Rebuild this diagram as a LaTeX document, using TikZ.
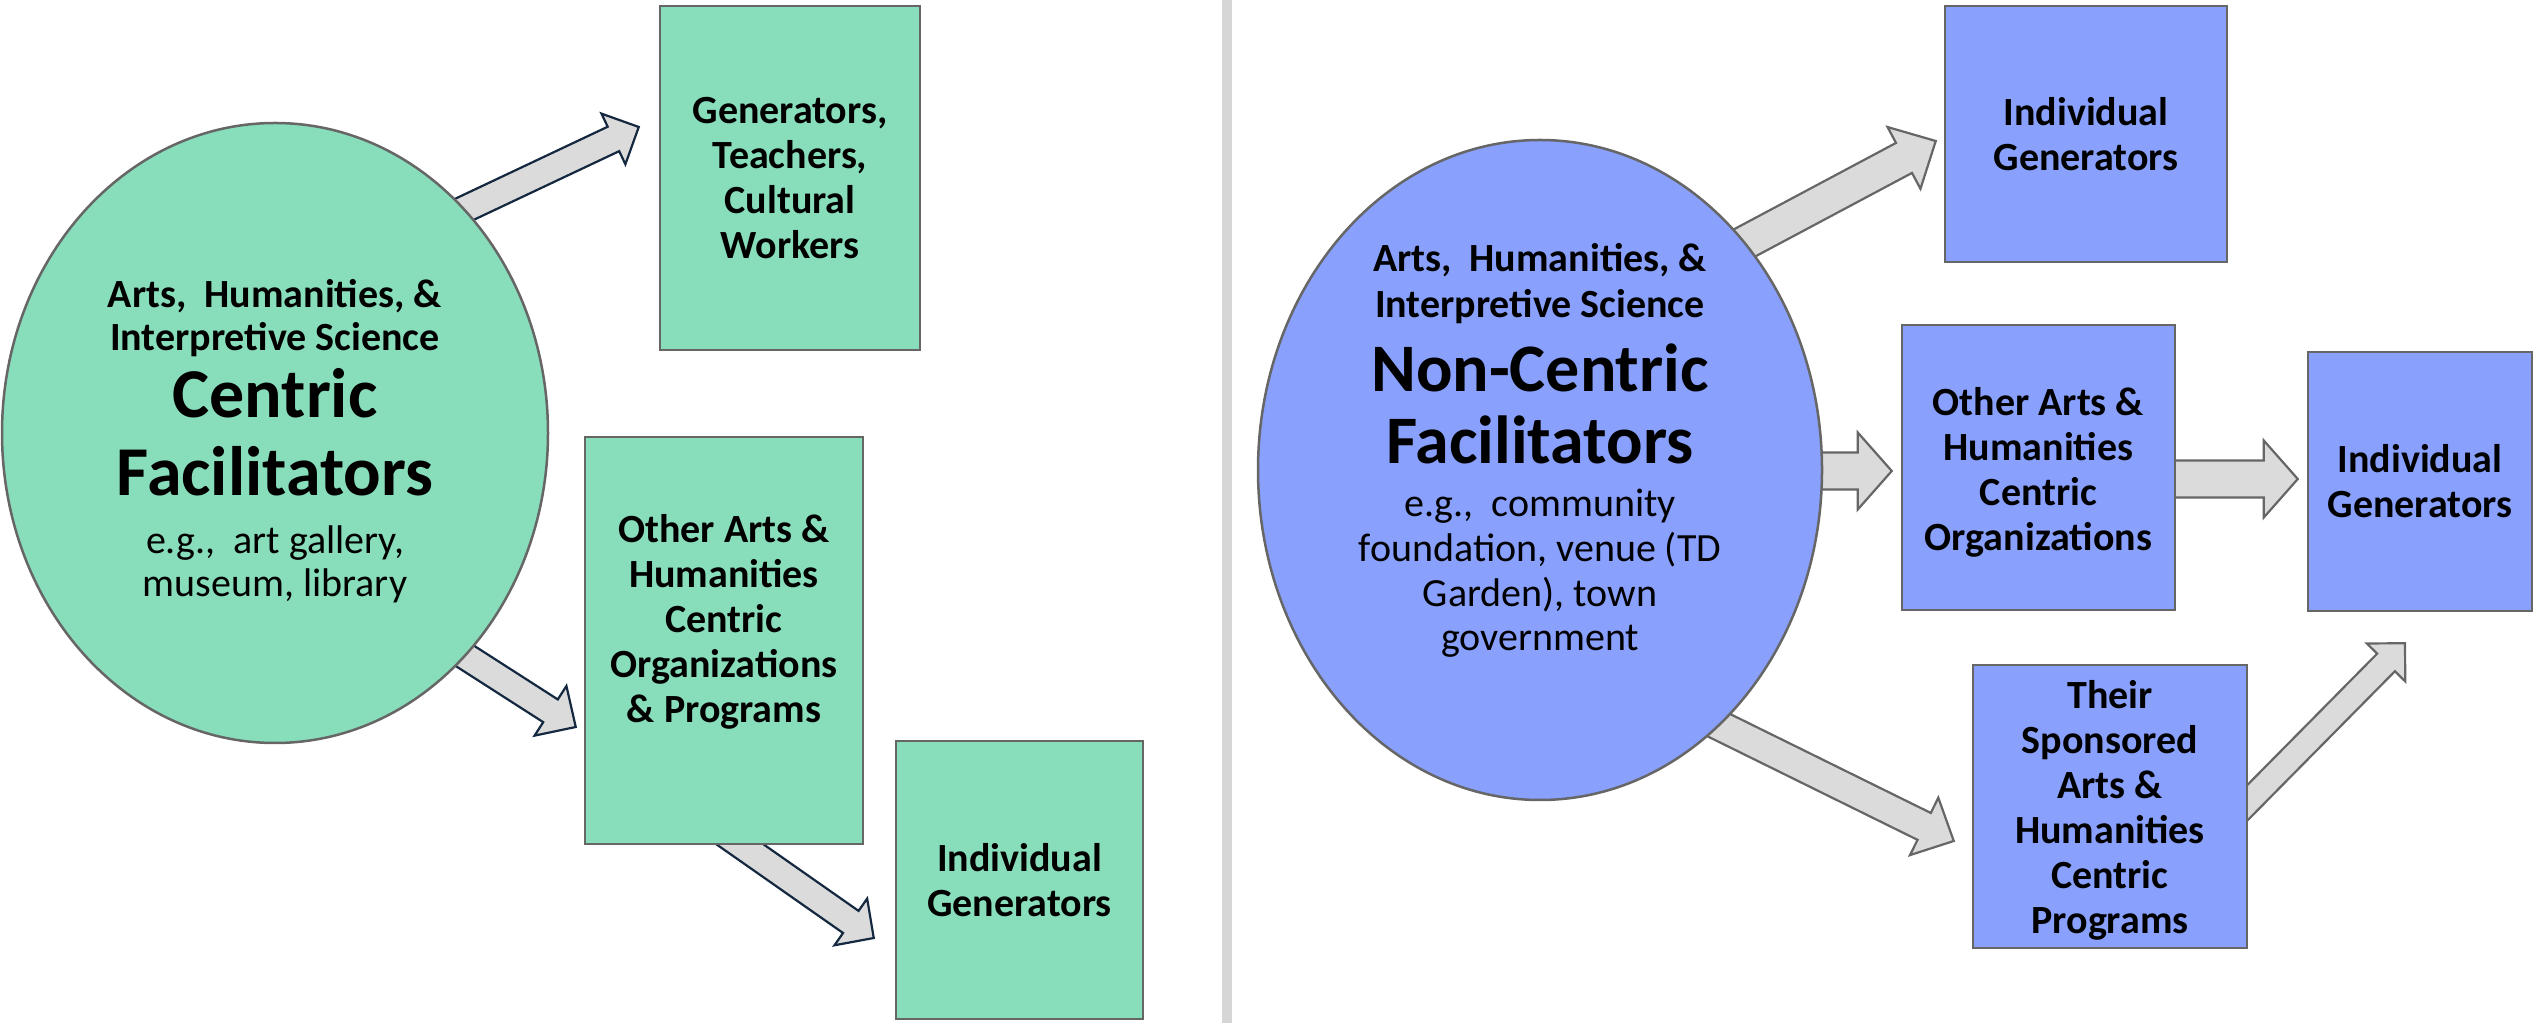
\documentclass[tikz,border=0pt]{standalone}
\usepackage{tikz}
\usetikzlibrary{shapes.geometric, calc, backgrounds}
\usepackage{xcolor}
\usepackage{fontspec}
\setmainfont{Carlito}

\definecolor{centric}{RGB}{136,221,187}
\definecolor{noncentric}{RGB}{137,160,252}
\definecolor{edgegray}{RGB}{102,102,102}
\definecolor{arrowfill}{RGB}{219,219,219}
\definecolor{navy}{RGB}{20,40,64}
\definecolor{divider}{RGB}{214,214,214}

\newcommand{\blockarrow}[6][]{%
	\coordinate (ba-t) at (#2);
	\coordinate (ba-h) at (#3);
	\coordinate (ba-m) at ($(ba-h)!#6!(ba-t)$);
	\draw [#1] ($(ba-t)!#4!90:(ba-h)$) -- ($(ba-m)!#4!-90:(ba-t)$) -- ($(ba-m)!#5!-90:(ba-t)$) -- (ba-h) -- ($(ba-m)!#5!90:(ba-t)$) -- ($(ba-m)!#4!90:(ba-t)$) -- ($(ba-t)!#4!-90:(ba-h)$) -- cycle;
}

\begin{document}
\begin{tikzpicture}[x=1pt,y=1pt,node distance=250pt,
	facil/.style={ellipse,draw=edgegray,line width=2.5pt,align=center,inner sep=0pt,font=\fontsize{40}{43}\selectfont\bfseries},
	box/.style={rectangle,draw=edgegray,line width=2.5pt,align=center,inner sep=0pt,font=\fontsize{40}{45}\selectfont\bfseries},
	leftarrow/.style={draw=navy,fill=arrowfill,line width=2.2pt},
	rightarrow/.style={draw=edgegray,fill=arrowfill,line width=2.2pt}]
				\useasboundingbox (0,0) rectangle (2535,1023);
				\node (cl) [facil,fill=centric,minimum width=546pt,minimum height=620pt] at (275,590) {\rule{0pt}{44pt}Arts,\ \ Humanities, \&\\Interpretive Science\\[11pt]{\fontsize{70}{76}\selectfont Centric}\\[27pt]{\fontsize{70}{76}\selectfont Facilitators}\\[15pt]{\mdseries e.g.,\ \ art gallery,}\\{\mdseries museum, library}};
				\node (g) [box,fill=centric,right of=cl,xshift=265,yshift=255,minimum width=260pt,minimum height=344pt] {Generators,\\Teachers,\\Cultural\\Workers};
				\node (o) [box,fill=centric,below of=g,xshift=-66,yshift=-212.5,minimum width=278pt,minimum height=407pt] {Other Arts \&\\Humanities\\Centric\\Organizations\\\& Programs\rule[-45pt]{0pt}{45pt}};
				\node (i) [box,fill=centric,right of=o,xshift=45.5,yshift=-239.5,minimum width=247pt,minimum height=278pt] {Individual\\Generators};
				\fill [divider] (1222,0) rectangle (1232,1023);
				\node (cr) [facil,fill=noncentric,minimum width=564pt,minimum height=660pt] at (1540,553) {Arts,\ \ Humanities, \&\\[3pt]Interpretive Science\\[19pt]{\fontsize{68}{74}\selectfont Non-Centric}\\[22pt]{\fontsize{68}{74}\selectfont Facilitators}\\[10pt]{\mdseries e.g.,\ \ community}\\[2pt]{\mdseries foundation, venue (TD}\\[2pt]{\mdseries Garden), town}\\[1pt]{\mdseries government}\rule[-46pt]{0pt}{46pt}};
				\node (r2) [box,fill=noncentric,right of=cr,xshift=248.5,yshift=2.5,minimum width=273pt,minimum height=285pt] {\rule{0pt}{38pt}Other Arts \&\\Humanities\\Centric\\Organizations};
				\node (r1) [box,fill=noncentric,above of=r2,xshift=47.5,yshift=83.5,minimum width=282pt,minimum height=256pt] {Individual\\Generators};
				\node (r3) [box,fill=noncentric,right of=r2,xshift=131.5,yshift=-14,minimum width=224pt,minimum height=259pt] {Individual\\Generators};
				\node (r4) [box,fill=noncentric,below of=r2,xshift=71.5,yshift=-89,minimum width=274pt,minimum height=283pt] {\rule{0pt}{36pt}Their\\Sponsored\\Arts \&\\Humanities\\Centric\\Programs};
				\begin{scope}[on background layer]
				\blockarrow[leftarrow]{$(cl.center)+(152,206)$}{$(g.west)+(-20,51)$}{13.5pt}{28pt}{28pt}
				\blockarrow[leftarrow]{$(cl.center)+(155,-200.5)$}{$(o.west)+(-8,-86.5)$}{13.5pt}{29.5pt}{30pt}
				\blockarrow[leftarrow]{$(o.south)+(-7,17)$}{$(i.west)+(-21,-58)$}{13.5pt}{28.5pt}{28pt}
				\blockarrow[rightarrow]{$(cr.center)+(195,222)$}{$(r1.west)+(-8,-7)$}{17pt}{35pt}{36pt}
				\blockarrow[rightarrow]{$(cr.east)+(-22,-1)$}{$(r2.west)+(-9,-3.5)$}{18.5pt}{38.5pt}{34pt}
				\blockarrow[rightarrow]{$(r2.east)+(-15,-11.5)$}{$(r3.west)+(-9,2.5)$}{18.5pt}{38.5pt}{34pt}
				\blockarrow[rightarrow]{$(cr.center)+(145,-238.5)$}{$(r4.west)+(-18,-34.5)$}{15pt}{32pt}{33pt}
				\blockarrow[rightarrow]{$(r4.east)+(-14,-9.5)$}{$(r3.south)+(-15,-31)$}{12.5pt}{27pt}{27pt}
				\end{scope}
			\end{tikzpicture}
\end{document}
